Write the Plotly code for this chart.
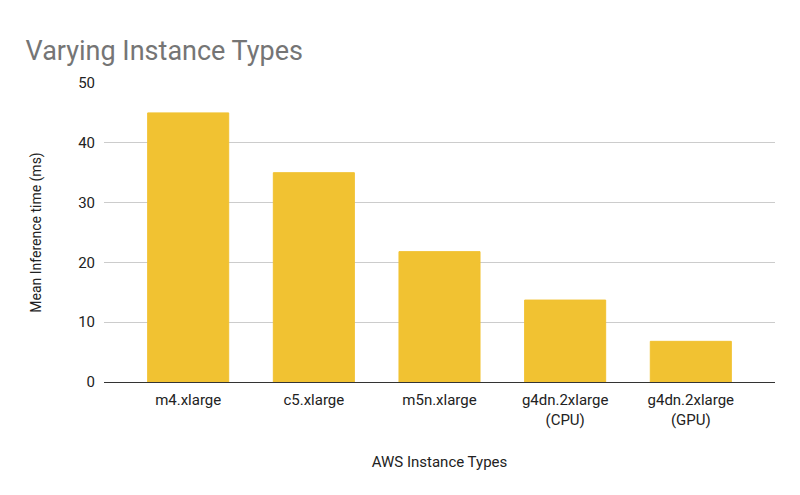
import plotly.graph_objects as go

categories = ["m4.xlarge", "c5.xlarge", "m5n.xlarge", "g4dn.2xlarge<br>(CPU)", "g4dn.2xlarge<br>(GPU)"]
values = [45, 35, 21.8, 13.7, 6.8]
y_ticks = [0, 10, 20, 30, 40, 50]

fig = go.Figure(go.Bar(
    x=list(range(len(categories))), y=values,
    marker=dict(color="#f1c232", line=dict(color="#f1c232", width=1)),
    width=0.645,
))

fig.update_layout(
    width=800, height=495,
    margin=dict(l=96, r=33, t=75, b=121),
    paper_bgcolor="white", plot_bgcolor="white",
    font=dict(family="Roboto", size=15, color="#222222"),
    title=dict(text="Varying Instance Types", x=0.022, xanchor="left", y=0.915, yanchor="middle",
               font=dict(family="Roboto", size=27, color="#757575")),
    showlegend=False,
)
fig.update_xaxes(
    tickmode="array", tickvals=list(range(len(categories))), ticktext=categories,
    range=[-0.67, 4.67], showgrid=False, showline=True, linecolor="#333333", linewidth=1,
    ticks="", tickfont=dict(size=15, color="#222222"), automargin=False,
    ticklabelstandoff=4,
    title=dict(text="AWS Instance Types", font=dict(size=15, color="#222222"), standoff=28),
)
fig.update_yaxes(
    range=[0, 50], tickvals=y_ticks, showgrid=True, gridcolor="#cccccc", gridwidth=1,
    zeroline=False, ticks="", tickfont=dict(size=15, color="#222222"), automargin=False,
    ticklabelstandoff=8,
    title=dict(text="Mean Inference time (ms)", font=dict(size=14, color="#222222"), standoff=33),
)

fig.write_html("out.html")
